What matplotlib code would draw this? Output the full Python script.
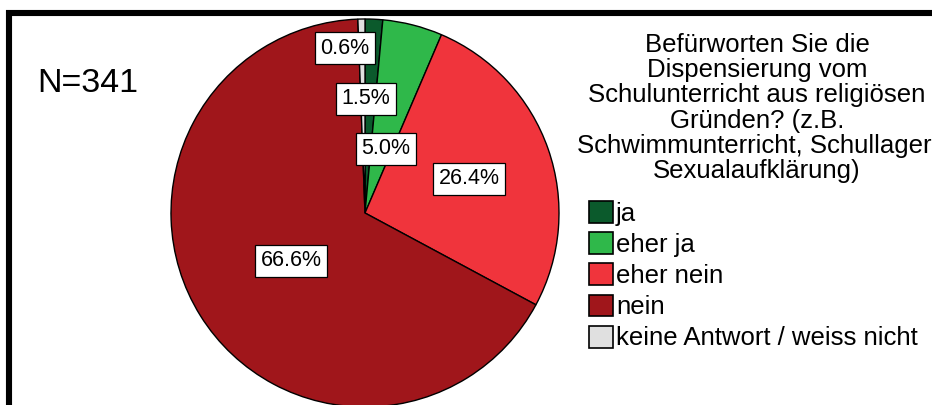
import matplotlib
matplotlib.use("Agg")
import matplotlib.pyplot as plt
from matplotlib.patches import Patch, Rectangle

plt.rcParams["font.family"] = ["Liberation Sans", "DejaVu Sans"]

# survey answers, n = 341
categories = ["ja", "eher ja", "eher nein", "nein", "keine Antwort / weiss nicht"]
counts = [5, 17, 90, 227, 2]
pct_labels = ["1.5%", "5.0%", "26.4%", "66.6%", "0.6%"]
colors = ["#0b5a2c", "#2fb84a", "#f0343c", "#a0161b", "#e0e0e0"]
title = ("Befürworten Sie die\nDispensierung vom\nSchulunterricht aus religiösen\n"
         "Gründen? (z.B.\nSchwimmunterricht, Schullager,\nSexualaufklärung)")
n_text = "N=341"

# label spots in units of pie radius (relative to center)
label_xy = [(0.005, 0.588), (0.108, 0.33), (0.538, 0.177), (-0.381, -0.247), (-0.103, 0.85)]

W, H = 932, 405
fig = plt.figure(figsize=(W / 100, H / 100), dpi=100)
ax = fig.add_axes([0, 0, 1, 1])

cx, cy, r = 365, H - 213, 194
wedges, _ = ax.pie(
    counts, colors=colors, startangle=90, counterclock=False,
    center=(cx, cy), radius=r, frame=True,
    wedgeprops=dict(edgecolor="black", linewidth=1.0),
)
ax.set_xlim(0, W)
ax.set_ylim(0, H)
ax.set_aspect("auto")
ax.axis("off")

for (ux, uy), lab in zip(label_xy, pct_labels):
    ax.text(cx + ux * r, cy + uy * r, lab, ha="center", va="center", fontsize=15.5,
            bbox=dict(boxstyle="square,pad=0.25", fc="white", ec="black", lw=0.9))

ax.text(88, H - 83, n_text, ha="center", va="center", fontsize=24.5)

ax.text(757, H - 108, title, ha="center", va="center", fontsize=18.5, linespacing=1.07)

handles = [Patch(facecolor=c, edgecolor="black", linewidth=1.2) for c in colors]
fig.legend(handles, categories, loc="upper left", bbox_to_anchor=(589 / W, 1 - 201 / H),
           frameon=False, fontsize=18.5, handlelength=0.93, handleheight=0.93,
           handletextpad=0.12, labelspacing=0.25, borderpad=0.0, borderaxespad=0.0)

# thick outer frame, cut off at right and bottom
fig.add_artist(Rectangle((9 / W, -0.1), 1.2, 1.1 - 13 / H, transform=fig.transFigure,
                         fill=False, ec="black", lw=4.4, clip_on=False))

fig.savefig("out.png", dpi=100)
